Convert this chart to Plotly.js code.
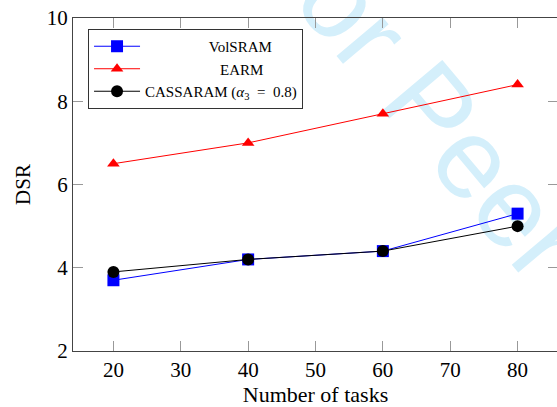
<!DOCTYPE html>
<html>
<head>
<meta charset="utf-8">
<script src="https://cdn.plot.ly/plotly-3.0.1.min.js"></script>
<style>
  html, body { margin: 0; padding: 0; background: #fff; width: 557px; height: 407px; overflow: hidden; }
  #wm { position: absolute; left: 0; top: 0; z-index: 0; }
  #chart { position: absolute; left: 0; top: 0; z-index: 1; }
</style>
</head>
<body>
<svg id="wm" width="557" height="407">
  <text transform="translate(246,-52) rotate(50)" x="0" y="0"
        font-family="Liberation Sans, Arial, sans-serif" font-size="114"
        fill="rgb(212,239,251)">For Peer Review</text>
</svg>
<div id="chart"></div>
<script>
const tasks = [20, 40, 60, 80];
const volsram = [3.7, 4.2, 4.4, 5.3];
const earm = [6.5, 7.0, 7.7, 8.4];
const cassaram = [3.9, 4.2, 4.4, 5.0];
const seriesNames = ["VolSRAM", "EARM",
  "CASSARAM\u00a0(<i>α</i><sub>3</sub>\u00a0\u00a0=\u00a0\u00a00.8)"];
const xTicks = [20, 30, 40, 50, 60, 70, 80];
const yTicks = [2, 4, 6, 8, 10];

const nb = n => "\u00a0".repeat(n);
const serif = "Liberation Serif";

const traces = [
  {x: tasks, y: volsram, name: nb(17) + seriesNames[0], legendgroup: "a",
   mode: "lines+markers", line: {color: "rgb(0,0,255)", width: 1},
   marker: {symbol: "square", size: 12, color: "rgb(0,0,255)"}},
  {x: tasks, y: earm, name: nb(20) + seriesNames[1], legendgroup: "b",
   mode: "lines+markers", line: {color: "rgb(255,0,0)", width: 1},
   marker: {symbol: "triangle-up", size: 11, color: "rgb(255,0,0)"}},
  {x: tasks, y: cassaram, name: seriesNames[2], legendgroup: "c",
   mode: "lines+markers", line: {color: "#000", width: 1},
   marker: {symbol: "circle", size: 12, color: "#000"}}
];

const axisCommon = {
  showline: true, linecolor: "#444", linewidth: 1, mirror: "ticks",
  ticks: "inside", ticklen: 10, tickcolor: "#999", tickwidth: 1,
  showgrid: false, zeroline: false,
  tickfont: {family: serif, size: 21, color: "#000"}
};

const layout = {
  width: 560, height: 407,
  margin: {l: 73, r: 2, t: 18, b: 56},
  paper_bgcolor: "rgba(0,0,0,0)", plot_bgcolor: "rgba(0,0,0,0)",
  font: {family: serif, color: "#000"},
  showlegend: true,
  xaxis: Object.assign({}, axisCommon, {
    range: [14, 86], tickvals: xTicks, ticktext: xTicks.map(String),
    title: {text: "Number of tasks", font: {family: serif, size: 22, color: "#000"}, standoff: 4}
  }),
  yaxis: Object.assign({}, axisCommon, {
    range: [2, 10], tickvals: yTicks, ticktext: yTicks.map(String),
    title: {text: "DSR", font: {family: serif, size: 21, color: "#000"}, standoff: 10}
  }),
  legend: {
    x: 0.031, y: 0.967, xanchor: "left", yanchor: "top",
    bgcolor: "#fff", bordercolor: "#333", borderwidth: 1,
    font: {family: serif, size: 15, color: "#000"},
    itemwidth: 46, tracegroupgap: 10, traceorder: "normal"
  }
};

Plotly.newPlot("chart", traces, layout, {displayModeBar: false, staticPlot: true});
</script>
</body>
</html>
